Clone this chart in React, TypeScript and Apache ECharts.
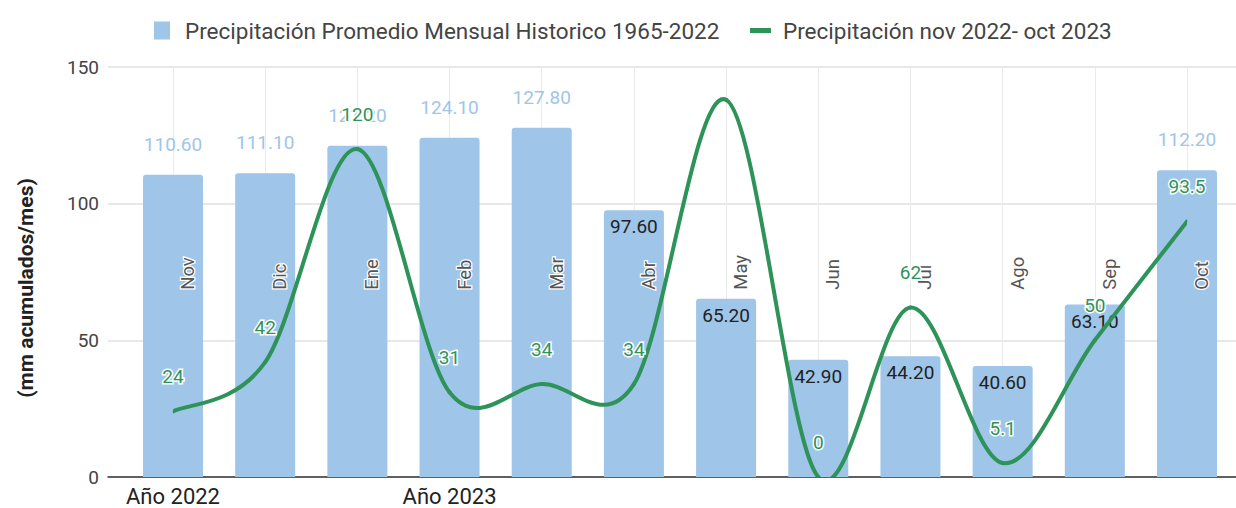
import React, { useEffect, useRef } from "react";
import * as echarts from "echarts";

// Months of the hydrological year Nov 2022 – Oct 2023
const months = ["Nov", "Dic", "Ene", "Feb", "Mar", "Abr", "May", "Jun", "Jul", "Ago", "Sep", "Oct"];
// Year markers shown under the axis
const yearLabels = ["Año 2022", "", "", "Año 2023", "", "", "", "", "", "", "", ""];
// Historic monthly average precipitation 1965-2022 (mm)
const historicAvg = [110.6, 111.1, 121.2, 124.1, 127.8, 97.6, 65.2, 42.9, 44.2, 40.6, 63.1, 112.2];
// Precipitation Nov 2022 – Oct 2023 (mm)
const precip2223 = [24, 42, 120, 31, 34, 34, 138, 0, 62, 5.1, 50, 93.5];
// Months whose value label is not drawn on the line
const unlabeledMonths = ["May"];
// Y axis scale
const yMin = 0;
const yMax = 150;
const yStep = 50;

const BAR_NAME = "Precipitación Promedio Mensual Historico 1965-2022";
const LINE_NAME = "Precipitación nov 2022- oct 2023";

const BAR_COLOR = "#9fc5e8";
const LINE_COLOR = "#2e9359";
const FONT = "Roboto";
// Height (in axis units) where the rotated month names sit
const MONTH_LABEL_LEVEL = 68.5;

export default function App() {
  const ref = useRef<HTMLDivElement>(null);

  useEffect(() => {
    document.body.style.margin = "0";
    const chart = echarts.init(ref.current!, undefined, { renderer: "svg" });

    const barData = historicAvg.map((v) => {
      const outside = v > 100;
      return {
        value: v,
        label: outside
          ? { position: "top", distance: 21, color: BAR_COLOR }
          : { position: "insideTop", distance: 7, color: "#222" },
      };
    });

    const lineData = precip2223.map((v, i) => ({
      value: v,
      label: { show: !unlabeledMonths.includes(months[i]) },
    }));

    const n = precip2223.length;
    const clampIdx = (k: number) => Math.max(0, Math.min(n - 1, k));

    chart.setOption({
      animation: false,
      textStyle: { fontFamily: FONT },
      legend: [
        {
          data: [{ name: BAR_NAME, icon: "rect" }],
          left: 149,
          top: 14,
          itemWidth: 16,
          itemHeight: 18,
          selectedMode: false,
          textStyle: { fontSize: 22.5, color: "#444", fontFamily: FONT, padding: [0, 0, 0, 10] },
        },
        {
          data: [{ name: LINE_NAME, icon: "rect", itemStyle: { color: LINE_COLOR } }],
          left: 745,
          top: 14,
          itemWidth: 21,
          itemHeight: 5,
          selectedMode: false,
          textStyle: { fontSize: 22.5, color: "#444", fontFamily: FONT, padding: [0, 0, 0, 7] },
        },
      ],
      grid: [
        { left: 173, right: 49, top: 67, bottom: 31 },
        { left: 108, right: 0, top: 67, bottom: 31 },
      ],
      xAxis: [
        {
          type: "category",
          gridIndex: 0,
          data: months,
          boundaryGap: false,
          axisLine: { show: false },
          axisTick: { show: false },
          axisLabel: {
            interval: 0,
            margin: 8,
            fontSize: 22,
            color: "#222",
            fontFamily: FONT,
            formatter: (_: string, i: number) => yearLabels[i],
          },
          splitLine: { show: true, lineStyle: { color: "#ebebeb", width: 1 } },
        },
        {
          type: "value",
          gridIndex: 1,
          min: 0,
          max: 1,
          axisLine: { show: true, onZero: false, lineStyle: { color: "#333", width: 1.5 } },
          axisTick: { show: false },
          axisLabel: { show: false },
          splitLine: { show: false },
        },
      ],
      yAxis: [
        {
          type: "value",
          gridIndex: 0,
          min: yMin,
          max: yMax,
          interval: yStep,
          show: false,
          splitLine: { show: false },
        },
        {
          type: "value",
          gridIndex: 1,
          min: yMin,
          max: yMax,
          interval: yStep,
          axisLine: { show: false },
          axisTick: { show: false },
          axisLabel: { margin: 9, fontSize: 19, color: "#444", fontFamily: FONT },
          splitLine: { lineStyle: { color: "#e0e0e0", width: 1.5 } },
        },
      ],
      graphic: [
        {
          type: "text",
          x: 26,
          y: 288,
          rotation: Math.PI / 2,
          style: {
            text: "(mm acumulados/mes)",
            font: `bold 21px ${FONT}`,
            fill: "#222",
            align: "center",
            verticalAlign: "middle",
          },
        },
      ],
      series: [
        {
          name: BAR_NAME,
          type: "bar",
          xAxisIndex: 0,
          yAxisIndex: 0,
          data: barData,
          barWidth: 60,
          clip: false,
          itemStyle: { color: BAR_COLOR, borderRadius: [3, 3, 0, 0] },
          label: {
            show: true,
            fontSize: 19,
            fontFamily: FONT,
            formatter: (p: any) => Number(p.value).toFixed(2),
          },
        },
        {
          name: "months",
          type: "custom",
          xAxisIndex: 0,
          yAxisIndex: 0,
          silent: true,
          z: 3,
          data: months.map((_, i) => [i]),
          renderItem: (params: any, api: any) => {
            const idx = api.value(0);
            const p = api.coord([idx, MONTH_LABEL_LEVEL]);
            return {
              type: "text",
              x: p[0] + 15,
              y: p[1],
              rotation: Math.PI / 2,
              style: {
                text: months[idx],
                font: `18.5px ${FONT}`,
                fill: "#555",
                stroke: "#fff",
                lineWidth: 2.5,
                align: "left",
                verticalAlign: "middle",
              },
            };
          },
        },
        {
          // Catmull-Rom curve through the monthly precipitation points
          name: "curve",
          type: "custom",
          xAxisIndex: 0,
          yAxisIndex: 0,
          silent: true,
          clip: true,
          z: 4,
          data: precip2223.map((v, i) => [i, v]),
          renderItem: (params: any, api: any) => {
            const i = params.dataIndex;
            if (i >= n - 1) return { type: "group", children: [] };
            const P = (k: number) => {
              const c = clampIdx(k);
              return api.coord([c, precip2223[c]]);
            };
            const p0 = P(i - 1);
            const p1 = P(i);
            const p2 = P(i + 1);
            const p3 = P(i + 2);
            return {
              type: "bezierCurve",
              shape: {
                x1: p1[0],
                y1: p1[1],
                x2: p2[0],
                y2: p2[1],
                cpx1: p1[0] + (p2[0] - p0[0]) / 6,
                cpy1: p1[1] + (p2[1] - p0[1]) / 6,
                cpx2: p2[0] - (p3[0] - p1[0]) / 6,
                cpy2: p2[1] - (p3[1] - p1[1]) / 6,
              },
              style: { stroke: LINE_COLOR, lineWidth: 4, fill: "none", lineCap: "round" },
            };
          },
        },
        {
          name: LINE_NAME,
          type: "line",
          xAxisIndex: 0,
          yAxisIndex: 0,
          data: lineData,
          symbol: "circle",
          symbolSize: 1,
          showSymbol: true,
          z: 5,
          itemStyle: { color: LINE_COLOR },
          lineStyle: { color: LINE_COLOR, width: 0, opacity: 0 },
          label: {
            show: true,
            position: "top",
            distance: 25,
            fontSize: 19,
            fontFamily: FONT,
            color: LINE_COLOR,
            textBorderColor: "#fff",
            textBorderWidth: 3,
          },
        },
      ],
    });

    return () => chart.dispose();
  }, []);

  return <div ref={ref} style={{ width: 1236, height: 508 }} />;
}
